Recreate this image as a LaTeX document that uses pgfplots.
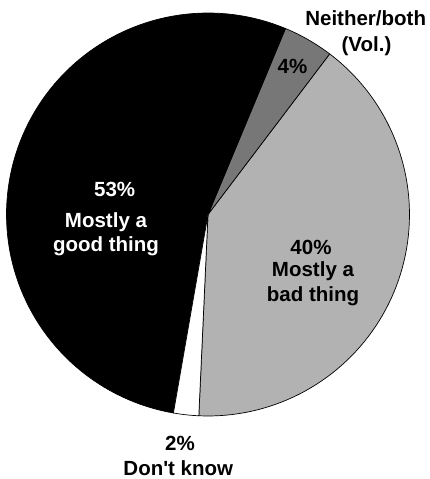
\documentclass[border=0pt]{standalone}
\usepackage{pgfplots}
\pgfplotsset{compat=1.18}
\usepackage{fontspec}
\setmainfont{Liberation Sans}

\definecolor{sliceBad}{RGB}{178,178,178}
\definecolor{sliceNeither}{RGB}{119,119,119}
\definecolor{sliceGood}{RGB}{0,0,0}
\definecolor{sliceDK}{RGB}{255,255,255}

% shares in percent (sum is 99 because of rounding)
\def\shareBad{40}
\def\shareNeither{4}
\def\shareGood{53}
\def\shareDK{2}
\def\shareTotal{99}

% pie geometry
\def\cx{208}
\def\cy{264.5}
\def\r{201.5}
\pgfmathsetmacro\aA{-92.6}
\pgfmathsetmacro\aB{\aA+\shareBad/\shareTotal*360}
\pgfmathsetmacro\aC{\aB+\shareNeither/\shareTotal*360}
\pgfmathsetmacro\aD{\aC+\shareGood/\shareTotal*360}
\pgfmathsetmacro\aE{\aD+\shareDK/\shareTotal*360}

\newcommand\lblfont{\fontsize{20.5bp}{24bp}\selectfont\bfseries}
\tikzset{lbl/.style={font=\lblfont, inner sep=0pt, anchor=base}}

\begin{document}
\begin{tikzpicture}
\begin{axis}[
  scale only axis, width=430bp, height=479bp,
  xmin=0, xmax=430, ymin=0, ymax=479,
  hide axis, clip=false,
]
\addplot[draw=black, line width=0.7bp, line join=round, fill=sliceBad,
  domain=\aA:\aB, samples=80, variable=\t]
  ({\cx+\r*cos(\t)}, {\cy+\r*sin(\t)}) -- (axis cs:\cx,\cy) -- cycle;
\addplot[draw=black, line width=0.7bp, line join=round, fill=sliceNeither,
  domain=\aB:\aC, samples=12, variable=\t]
  ({\cx+\r*cos(\t)}, {\cy+\r*sin(\t)}) -- (axis cs:\cx,\cy) -- cycle;
\addplot[draw=black, line width=0.7bp, line join=round, fill=sliceGood,
  domain=\aC:\aD, samples=100, variable=\t]
  ({\cx+\r*cos(\t)}, {\cy+\r*sin(\t)}) -- (axis cs:\cx,\cy) -- cycle;
\addplot[draw=black, line width=0.7bp, line join=round, fill=sliceDK,
  domain=\aD:\aE, samples=8, variable=\t]
  ({\cx+\r*cos(\t)}, {\cy+\r*sin(\t)}) -- (axis cs:\cx,\cy) -- cycle;

% slice labels
\node[lbl] at (axis cs:365.7,453) {Neither/both};
\node[lbl] at (axis cs:366.5,427.3) {(Vol.)};
\node[lbl] at (axis cs:292.5,405) {\shareNeither\%};

\node[lbl,text=white] at (axis cs:114.7,282.3) {\shareGood\%};
\node[lbl,text=white] at (axis cs:106,251.3) {Mostly a};
\node[lbl,text=white] at (axis cs:106,227.5) {good thing};

\node[lbl] at (axis cs:311,224) {\shareBad\%};
\node[lbl] at (axis cs:313,202.3) {Mostly a};
\node[lbl] at (axis cs:313,177.3) {bad thing};

\node[lbl] at (axis cs:180,28.3) {\shareDK\%};
\node[lbl] at (axis cs:178.3,3.5) {Don\textquotesingle t know};
\end{axis}
\pgfresetboundingbox
\path (current axis.south west) rectangle (current axis.north east);
\end{tikzpicture}
\end{document}
